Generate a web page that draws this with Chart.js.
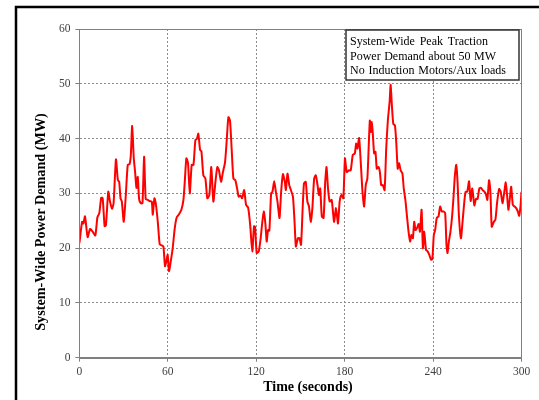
<!DOCTYPE html>
<html>
<head>
<meta charset="utf-8">
<script src="https://cdn.jsdelivr.net/npm/chart.js@4.4.1/dist/chart.umd.min.js"></script>
<style>
  html, body { margin: 0; padding: 0; background: #fff; }
  canvas { display: block; }
</style>
</head>
<body>
<canvas id="demandChart" width="539" height="400"></canvas>
<script>
// Time (s) and system-wide demand (MW)
const times = [
  0, 1.8, 2.7, 3.8, 5.6, 7.2, 9, 10.8, 12.2, 13.5, 14.8, 15.8, 17.1, 18, 19.6, 20.7, 22.1, 23.2, 24.8, 26.1,
  27, 27.9, 28.8, 30.1, 31.5, 32.8, 34, 34.9, 35.8, 36.9, 37.8, 38.7, 39.6, 40.5, 41.6, 42.8, 43.9, 45, 46.4, 47.7,
  49.1, 49.8, 50.9, 51.8, 53.2, 54.5, 55.9, 57, 58.1, 59, 59.9, 60.8, 62, 63.3, 64.7, 66, 67.6, 69.2, 70.6, 71.5,
  72.6, 73.7, 74.9, 76.2, 77.4, 78.7, 79.8, 80.7, 81.9, 82.8, 84.1, 85.5, 86.8, 88.2, 89.5, 90.9, 92.3, 93.6, 94.7, 96.1,
  97.4, 98.8, 99.9, 101.1, 102.2, 103.3, 104.5, 105.8, 107, 108.1, 109.3, 110.4, 111.8, 113.1, 114.5, 115.9, 117.3, 118.5, 119.2, 120.3,
  121.7, 123, 123.9, 125.1, 126.2, 127.1, 128, 128.9, 130.1, 131, 132.2, 133.3, 134.4, 135.8, 136.9, 138.1, 139.4, 140.1, 141.2, 142.4,
  143.5, 144.9, 146, 146.9, 148.3, 149.4, 150.4, 151.5, 152.4, 153.6, 154.7, 155.8, 157, 158.1, 159.3, 160.4, 161.6, 162.5, 163.4, 164.5,
  165.7, 166.8, 167.7, 168.7, 169.8, 171.2, 172.8, 174.1, 175.5, 176.6, 177.8, 179.1, 180.2, 181.4, 182.8, 184.1, 185.5, 186.9, 187.8, 188.7,
  189.8, 190.9, 192.1, 193.2, 194.3, 195.4, 196.4, 197.1, 197.7, 198.4, 199.1, 200, 200.9, 201.8, 203, 203.9, 204.8, 205.9, 207.1, 208.2,
  209.3, 210.5, 211.2, 212.1, 213, 214.1, 215, 216, 216.9, 218, 219.2, 220.1, 221.2, 222.4, 223.5, 224.4, 225.3, 226.3, 227.2, 228.1,
  229, 230.2, 231.1, 232.2, 233.1, 234, 235.2, 236.3, 237.4, 238.6, 239.5, 240.5, 241.4, 242.5, 243.7, 244.8, 245.9, 247, 248.2, 249.1,
  249.8, 250.7, 251.8, 253, 254.1, 254.8, 255.7, 256.6, 257.5, 258.9, 260, 261.2, 262.1, 263.2, 264.4, 265.5, 266.6, 268, 269.1, 270.2,
  271.4, 272.5, 273.6, 274.8, 275.9, 276.8, 278, 278.9, 279.8, 281.2, 282.3, 283.4, 284.8, 285.9, 287.1, 288.2, 289.3, 290.2, 291.1, 292.1,
  293, 294.1, 295.3, 296.4, 297.5, 298.4, 299.3, 300
];
const demand = [
  20.9, 24.8, 24.5, 25.8, 22, 23.5, 23, 22.3, 25.6, 26.4, 29.2, 29.1, 24, 24.2, 30.3, 28.6, 27.2, 28.2, 36.2, 32.4,
  32.1, 29.1, 28.5, 24.8, 29.7, 35.2, 35.3, 37, 42.3, 36.4, 33.9, 31, 33, 29, 28.2, 28.2, 36.7, 29, 28.8, 28.6,
  28.5, 26.1, 29.1, 28.2, 24.8, 20.7, 20.5, 20.3, 16.7, 17.6, 18.8, 15.8, 17.6, 20, 23.6, 25.6, 26.2, 27, 28.8, 32.1,
  36.4, 35.5, 30, 35.2, 35.2, 39.7, 40, 40.9, 37.9, 37.7, 33.3, 32.7, 29.1, 29.7, 34.8, 28.5, 32.1, 34.8, 34.2, 32.1,
  33.9, 35.6, 39.4, 43.9, 43.3, 38.2, 32.7, 32.4, 30.9, 29.4, 29.6, 29.1, 30.6, 27.9, 27.4, 24.2, 19.4, 24, 23.9, 19.1,
  19.4, 21.8, 24.2, 26.7, 24.5, 21.2, 23.3, 23.2, 30, 30.3, 32.2, 30.3, 28.5, 25.5, 30.3, 33.5, 32.1, 30.6, 33.6, 31.5,
  30.6, 29.4, 24.8, 20.3, 21.8, 21.8, 20.6, 27.3, 31.8, 32.1, 28.5, 27.6, 24.8, 27.3, 32.7, 33.3, 31.5, 29.7, 30.9, 25.8,
  25.5, 32.1, 34.8, 30.9, 28.5, 28.8, 24.8, 27.3, 24.5, 28.5, 29.7, 29.1, 36.4, 33.9, 34.2, 34.2, 37, 37.3, 39.1, 38.2,
  40.1, 35.8, 30.3, 27.6, 31.5, 32.7, 39.1, 43.3, 41.2, 43, 40.9, 37.3, 37.6, 34.5, 34.8, 33.9, 31.5, 31.5, 30.6, 38.2,
  43.3, 46.7, 49.8, 45.8, 42.7, 42.4, 39.4, 34.5, 35.5, 34.2, 33.6, 30.9, 28.8, 25.5, 22.7, 21.2, 22.4, 21.8, 24.8, 23.3,
  23.6, 24.4, 23, 27, 20, 23, 19.7, 19.4, 18.8, 17.9, 18, 22.4, 23.3, 25.5, 25.8, 27.6, 26.7, 26.7, 26.4, 20.6,
  19.1, 21.2, 23, 26.1, 30.3, 33.3, 35.2, 32.1, 26.1, 21.8, 24.8, 28.5, 30.3, 30.3, 32.2, 28.6, 30.9, 27.8, 29, 29,
  30.9, 31, 30.6, 30.3, 29.8, 28.8, 32.4, 30.3, 23.9, 24.8, 25.2, 28.2, 30.8, 30.3, 28.2, 30, 32, 29.7, 27, 29.1,
  31.2, 27.9, 27.6, 27.3, 26.7, 25.9, 27.6, 30.3
];
const xTicks = [0, 60, 120, 180, 240, 300];
const yTicks = [0, 10, 20, 30, 40, 50, 60];
const noteLines = [
  'System-Wide Peak Traction',
  'Power Demand about 50 MW',
  'No Induction Motors/Aux loads'
];

const serif = '"Liberation Serif", "Times New Roman", serif';

// page frame, plot box, axis titles and the note box
const decorPlugin = {
  id: 'decor',
  beforeDraw(chart) {
    const { ctx } = chart;
    ctx.save();
    ctx.fillStyle = '#fff';
    ctx.fillRect(0, 0, chart.width, chart.height);
    ctx.strokeStyle = '#000';
    ctx.lineWidth = 2.5;
    ctx.beginPath();
    ctx.moveTo(16, 400);
    ctx.lineTo(16, 7);
    ctx.lineTo(539, 7);
    ctx.stroke();
    ctx.restore();
  },
  afterDraw(chart) {
    const { ctx, chartArea: a } = chart;
    ctx.save();
    ctx.strokeStyle = '#808080';
    ctx.lineWidth = 1;
    ctx.strokeRect(Math.round(a.left) + 0.5, Math.round(a.top) + 0.5,
      Math.round(a.right - a.left), Math.round(a.bottom - a.top));

    ctx.fillStyle = '#000';
    ctx.font = 'bold 14px ' + serif;
    ctx.textAlign = 'center';
    ctx.textBaseline = 'middle';
    ctx.fillText('Time (seconds)', 308, 387);

    ctx.save();
    ctx.translate(41, 222);
    ctx.rotate(-Math.PI / 2);
    ctx.font = 'bold 14.2px ' + serif;
    ctx.fillText('System-Wide Power Demand (MW)', 0, 0);
    ctx.restore();

    // note box
    ctx.fillStyle = '#fff';
    ctx.fillRect(346, 30, 173, 50);
    ctx.strokeStyle = '#333';
    ctx.lineWidth = 1.5;
    ctx.strokeRect(346, 30, 173, 50);
    ctx.fillStyle = '#000';
    ctx.font = '12px ' + serif;
    ctx.textAlign = 'left';
    const widths = [138, 146, 156];
    noteLines.forEach((line, i) => {
      const words = line.split(' ');
      const natural = words.reduce((s, w) => s + ctx.measureText(w).width, 0);
      const gap = Math.max(3, (widths[i] - natural) / (words.length - 1));
      let x = 350;
      words.forEach((w) => {
        ctx.fillText(w, x, 42 + i * 14.5);
        x += ctx.measureText(w).width + gap;
      });
    });
    ctx.restore();
  }
};

const gridStyle = {
  color: '#8c8c8c',
  tickLength: 4,
  tickBorderDash: [],
  tickColor: '#808080'
};

new Chart(document.getElementById('demandChart'), {
  type: 'line',
  data: {
    datasets: [{
      data: times.map((t, i) => ({ x: t, y: demand[i] })),
      borderColor: '#ff0000',
      borderWidth: 2,
      pointRadius: 0,
      tension: 0.2,
      fill: false
    }]
  },
  options: {
    responsive: false,
    animation: false,
    layout: { padding: { left: 0, top: 29, right: 17.5, bottom: 0 } },
    plugins: { legend: { display: false }, tooltip: { enabled: false } },
    scales: {
      x: {
        type: 'linear',
        min: 0,
        max: 300,
        afterFit: (s) => { s.height = 42.3; },
        afterBuildTicks: (s) => { s.ticks = xTicks.map((v) => ({ value: v })); },
        ticks: { color: '#404040', font: { family: serif, size: 11.5 }, padding: 3 },
        grid: gridStyle,
        border: { color: '#808080', dash: [2, 2] }
      },
      y: {
        min: 0,
        max: 60,
        afterFit: (s) => { s.width = 79.4; },
        afterBuildTicks: (s) => { s.ticks = yTicks.map((v) => ({ value: v })); },
        ticks: { color: '#404040', font: { family: serif, size: 11.5 }, padding: 5 },
        grid: gridStyle,
        border: { color: '#808080', dash: [2, 2] }
      }
    }
  },
  plugins: [decorPlugin]
});
</script>
</body>
</html>
